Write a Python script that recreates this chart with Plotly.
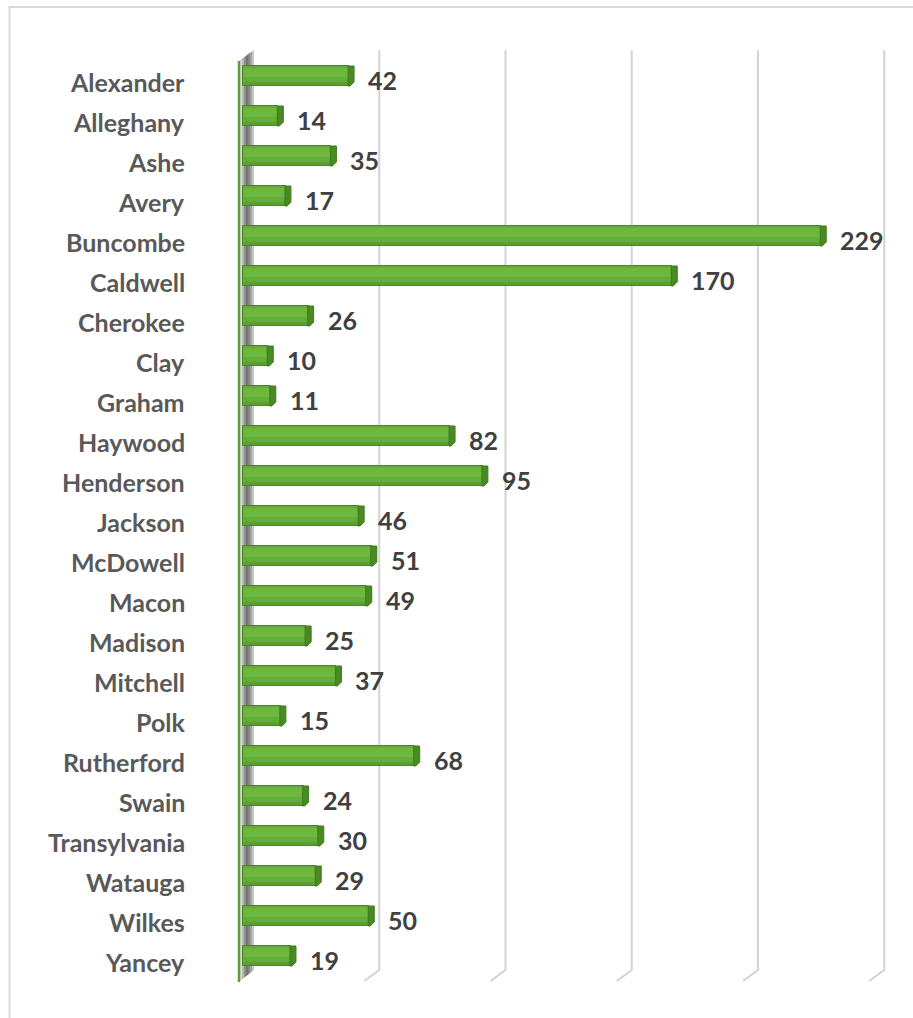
import plotly.graph_objects as go

# Western North Carolina counties and their counts
counties = ["Alexander", "Alleghany", "Ashe", "Avery", "Buncombe", "Caldwell",
            "Cherokee", "Clay", "Graham", "Haywood", "Henderson", "Jackson",
            "McDowell", "Macon", "Madison", "Mitchell", "Polk", "Rutherford",
            "Swain", "Transylvania", "Watauga", "Wilkes", "Yancey"]
counts = [42, 14, 35, 17, 229, 170, 26, 10, 11, 82, 95, 46,
          51, 49, 25, 37, 15, 68, 24, 30, 29, 50, 19]
grid_values = [50, 100, 150, 200, 250]

W, H = 913, 1018

# Pixel geometry of the plot: value 0 sits at X0_PX, first row at Y0_PX
X0_PX, PX_PER_UNIT = 243, 2.525
Y0_PX, PX_PER_ROW = 76, 40


def xd(px):
    return (px - X0_PX) / PX_PER_UNIT


def yd(py):
    return (py - Y0_PX) / PX_PER_ROW


def dx(px):
    return px / PX_PER_UNIT


def dy(py):
    return py / PX_PER_ROW


rows = list(range(len(counties)))
BAR_W = 0.5

fig = go.Figure()
fig.add_trace(go.Bar(
    y=rows, x=counts, orientation="h", width=BAR_W,
    marker=dict(color="#64ad37", line=dict(color="#4a8429", width=1)),
    hoverinfo="skip",
))

shapes = []

# chart frame
shapes.append(dict(type="rect", xref="paper", yref="paper",
                   x0=9.5 / W, x1=1.05, y0=-0.05, y1=1 - 7 / H,
                   line=dict(color="#d9d9d9", width=2), layer="below"))

# back-wall gridlines with their floor returns
for v in grid_values:
    gx = v + dx(10)
    shapes.append(dict(
        type="path", xref="x", yref="y",
        path=f"M {gx},{yd(50)} L {gx},{yd(970)} L {gx - dx(15)},{yd(970) + dy(11)}",
        line=dict(color="#d3d3d3", width=2), layer="below"))

# side wall at the value axis, shaded in vertical strips
wall_cols = ["#d8d8d8", "#b8b8b8", "#8e8e8e", "#747474", "#858585", "#a4a4a4", "#c6c6c6"]
n = len(wall_cols)
for k, c in enumerate(wall_cols):
    t0, t1 = k / n, (k + 1) / n
    xa, xb = 240 + 14 * t0, 240 + 14 * t1
    ya_top, yb_top = 60 - 10 * t0, 60 - 10 * t1
    ya_bot, yb_bot = 981 - 11 * t0, 981 - 11 * t1
    shapes.append(dict(
        type="path", xref="x", yref="y",
        path=(f"M {xd(xa)},{yd(ya_top)} L {xd(xb)},{yd(yb_top)} "
              f"L {xd(xb)},{yd(yb_bot)} L {xd(xa)},{yd(ya_bot)} Z"),
        fillcolor=c, line=dict(width=0), layer="below"))
shapes.append(dict(type="line", xref="x", yref="y",
                   x0=xd(239), x1=xd(239), y0=yd(61), y1=yd(982),
                   line=dict(color="#5c9e31", width=2.5), layer="below"))

for i, v in zip(rows, counts):
    top, bot = i - BAR_W / 2, i + BAR_W / 2
    # soft highlight across the upper part of the bar face
    shapes.append(dict(
        type="rect", xref="x", yref="y",
        x0=dx(1), x1=v - dx(1), y0=top + dy(2), y1=top + dy(11),
        fillcolor="#6fb940", opacity=0.8, line=dict(width=0), layer="above"))
    # darker band along the bottom edge
    shapes.append(dict(
        type="rect", xref="x", yref="y",
        x0=dx(1), x1=v - dx(1), y0=bot - dy(4), y1=bot - dy(1),
        fillcolor="#589b30", opacity=0.8, line=dict(width=0), layer="above"))
    # bevelled end cap
    shapes.append(dict(
        type="path", xref="x", yref="y",
        path=(f"M {v - dx(1)},{top} L {v + dx(5)},{top} L {v + dx(5)},{bot - dy(4)} "
              f"L {v + dx(1)},{bot} L {v - dx(1)},{bot} Z"),
        fillcolor="#4a8a24", line=dict(color="#3f7a1f", width=1), layer="above"))

annotations = []
for i, name in zip(rows, counties):
    annotations.append(dict(
        x=0, y=i, xref="x", yref="y", text=name, showarrow=False,
        xanchor="right", yanchor="middle", xshift=-56, yshift=-6,
        font=dict(family="Lato", size=25, color="#595959", weight="bold")))
for i, v in zip(rows, counts):
    annotations.append(dict(
        x=v, y=i, xref="x", yref="y", text=str(v), showarrow=False,
        xanchor="left", yanchor="middle", xshift=17, yshift=-4,
        font=dict(family="Lato", size=25, color="#404040", weight="bold")))

fig.update_layout(
    width=W, height=H, margin=dict(l=0, r=0, t=0, b=0),
    paper_bgcolor="white", plot_bgcolor="white", showlegend=False,
    xaxis=dict(range=[xd(0), xd(W)], visible=False, fixedrange=True),
    yaxis=dict(range=[yd(H), yd(0)], visible=False, fixedrange=True),
    shapes=shapes, annotations=annotations, bargap=0,
)

fig.write_html("out.html")
